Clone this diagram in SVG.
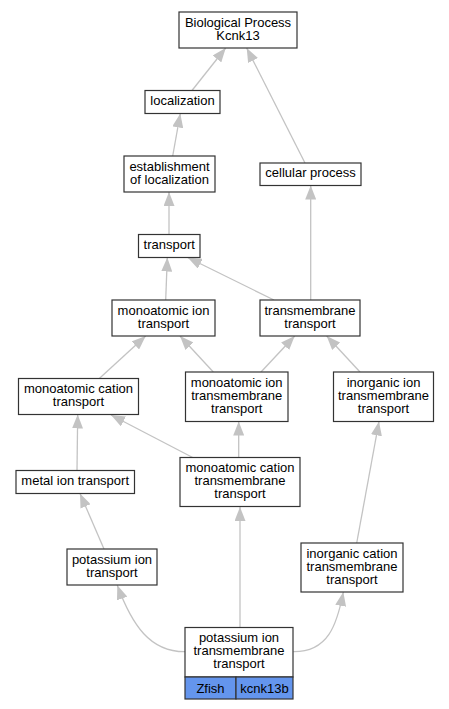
<svg xmlns="http://www.w3.org/2000/svg" width="449" height="709" viewBox="0 0 449 709">
<defs>
<style>
.n rect{fill:#fff;stroke:#333;stroke-width:1.2}
.n text,.c text{font-family:"Liberation Sans",Arial,sans-serif;font-size:13px;fill:#000;text-anchor:middle}
.e path{fill:none;stroke:#c3c3c3;stroke-width:1.3;marker-end:url(#ah)}
rect.b{fill:#6495ed;stroke:#333;stroke-width:1.2}
</style>
<marker id="ah" viewBox="0 0 14 11" refX="14" refY="5.5" markerWidth="14" markerHeight="11" markerUnits="userSpaceOnUse" orient="auto">
<path d="M0,0 L14,5.5 L0,11 z" fill="#c3c3c3"/>
</marker>
</defs>
<rect width="449" height="709" fill="#fff"/>
<g id="edges" class="e">
<path d="M192,90.5 L225.7,48"/>
<path d="M305,163 L246.7,48"/>
<path d="M172.7,156 L180.3,113.5"/>
<path d="M169,234.5 L169,192"/>
<path d="M310.7,300 L310.7,185.5"/>
<path d="M165.7,300 L167.3,257.5"/>
<path d="M274,300 L187.7,257.5"/>
<path d="M99.3,378.5 L145.7,336"/>
<path d="M213.3,372 L180,336"/>
<path d="M261,372 L294.7,336"/>
<path d="M360,372 L326.7,336"/>
<path d="M77,470.5 L77.7,414.5"/>
<path d="M192.7,457.5 L111,415"/>
<path d="M238.7,457.5 L238.7,421.5"/>
<path d="M356.7,543 L379,421.5"/>
<path d="M104,549 L80,493.5"/>
<path d="M185,651.7 C150,652 132,625 117.3,585.3"/>
<path d="M240,627.5 L240,507"/>
<path d="M293.3,651.7 C328,652 337,625 343.3,592"/>
</g>
<g id="bp" class="n"><rect x="179" y="12" width="118" height="36"/><text x="238" y="26.5">Biological Process</text><text x="238" y="39.5">Kcnk13</text></g>
<g id="localization" class="n"><rect x="145" y="90.5" width="75" height="23"/><text x="182.5" y="104.8">localization</text></g>
<g id="establishment" class="n"><rect x="124" y="156" width="91" height="36"/><text x="169.5" y="170.5">establishment</text><text x="169.5" y="183.5">of localization</text></g>
<g id="cellular" class="n"><rect x="260" y="163" width="101" height="22.5"/><text x="310.5" y="177.2">cellular process</text></g>
<g id="transport" class="n"><rect x="138.5" y="234.5" width="61.5" height="23"/><text x="169.2" y="249">transport</text></g>
<g id="mit" class="n"><rect x="112" y="300" width="103" height="36"/><text x="163.5" y="314.5">monoatomic ion</text><text x="163.5" y="327.5">transport</text></g>
<g id="tmt" class="n"><rect x="260" y="300" width="100" height="36"/><text x="310" y="314.5">transmembrane</text><text x="310" y="327.5">transport</text></g>
<g id="mct" class="n"><rect x="18.5" y="378.5" width="120" height="36"/><text x="78.5" y="393">monoatomic cation</text><text x="78.5" y="406">transport</text></g>
<g id="mitt" class="n"><rect x="185.5" y="372" width="102.5" height="49.5"/><text x="236.7" y="386.5">monoatomic ion</text><text x="236.7" y="399.5">transmembrane</text><text x="236.7" y="412.5">transport</text></g>
<g id="iitt" class="n"><rect x="333.5" y="372" width="100" height="49.5"/><text x="383.5" y="386.5">inorganic ion</text><text x="383.5" y="399.5">transmembrane</text><text x="383.5" y="412.5">transport</text></g>
<g id="metal" class="n"><rect x="16" y="470.5" width="118.5" height="23"/><text x="75.2" y="485">metal ion transport</text></g>
<g id="mctt" class="n"><rect x="180" y="457.5" width="120" height="49"/><text x="240" y="472">monoatomic cation</text><text x="240" y="485">transmembrane</text><text x="240" y="498">transport</text></g>
<g id="pit" class="n"><rect x="67" y="549" width="90" height="36"/><text x="112" y="563.5">potassium ion</text><text x="112" y="576.5">transport</text></g>
<g id="ictt" class="n"><rect x="301" y="543" width="102" height="49"/><text x="352" y="557.5">inorganic cation</text><text x="352" y="570.5">transmembrane</text><text x="352" y="583.5">transport</text></g>
<g id="pitt" class="n"><rect x="185" y="627.5" width="108" height="49.5"/><text x="239" y="642.2">potassium ion</text><text x="239" y="655.2">transmembrane</text><text x="239" y="668.2">transport</text>
<rect class="b" x="185" y="677" width="51" height="22"/><rect class="b" x="236" y="677" width="57" height="22"/><text x="210.5" y="692.5">Zfish</text><text x="264.5" y="692.5">kcnk13b</text></g>
</svg>
